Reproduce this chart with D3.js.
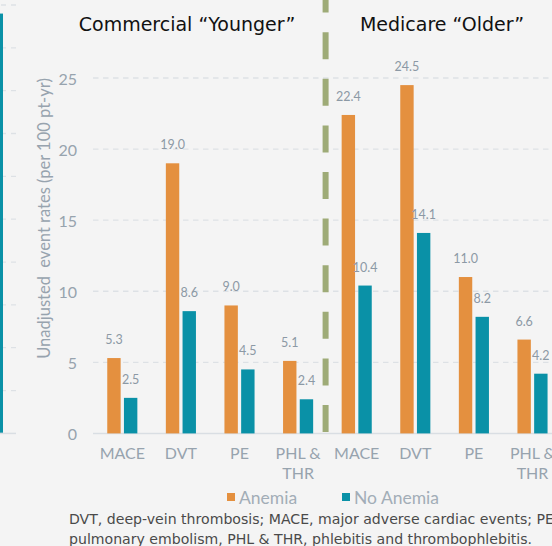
<!DOCTYPE html>
<html>
<head>
<meta charset="utf-8">
<script src="https://cdn.jsdelivr.net/npm/d3@7"></script>
<style>
  html, body { margin: 0; padding: 0; background: #f4f4f4; }
  svg { display: block; }
</style>
</head>
<body>
<div id="chart"></div>
<script>
// data
var categories = ["MACE", "DVT", "PE", "PHL & THR", "MACE", "DVT", "PE", "PHL & THR"];
var groups = ["Commercial", "Commercial", "Commercial", "Commercial", "Medicare", "Medicare", "Medicare", "Medicare"];
var anemia = [5.3, 19.0, 9.0, 5.1, 22.4, 24.5, 11.0, 6.6];
var noAnemia = [2.5, 8.6, 4.5, 2.4, 10.4, 14.1, 8.2, 4.2];
var yTicks = [0, 5, 10, 15, 20, 25];
var panelTitles = ["Commercial \u201cYounger\u201d", "Medicare \u201cOlder\u201d"];
var seriesNames = ["Anemia", "No Anemia"];
// edge of the neighbouring panel that shows at the left border
var neighbourValue = [9.8];
var neighbourTicks = [0, 1, 2, 3, 4, 5, 6, 7, 8, 9, 10];

const W = 552, H = 546;
const orange = "#e4903f", teal = "#0a91a7", olive = "#9eab77";
const axisGrey = "#97a3ae", labelFont = "Lato, 'Open Sans', sans-serif";

var svg = d3.select('#chart').append('svg')
    .attr('width', W)
    .attr('height', H);

svg.append('rect').attr('width', W).attr('height', H).attr('fill', '#f4f4f4');

var x = d3.scaleBand().domain(d3.range(categories.length)).range([93, 93 + 58.6*categories.length]);
var y = d3.scaleLinear().domain([0, 25]).range([433.4, 78]);

// neighbouring panel (cut off at the left edge)
var yn = d3.scaleLinear().domain([0, 10]).range([433.4, 5]);
svg.selectAll('.ngrid')
    .data(neighbourTicks.slice(1))
    .enter().append('line')
    .attr('x1', 16).attr('x2', -40)
    .attr('y1', d => yn(d)).attr('y2', d => yn(d))
    .attr('stroke', '#dde1e5')
    .attr('stroke-width', 1.3)
    .attr('stroke-dasharray', '5 5');
svg.append('rect')
    .attr('x', -10).attr('width', 13)
    .attr('y', yn(neighbourValue[0]))
    .attr('height', yn(0) - yn(neighbourValue[0]))
    .attr('fill', teal);
svg.append('line')
    .attr('x1', 0).attr('x2', 16)
    .attr('y1', yn(0)).attr('y2', yn(0))
    .attr('stroke', '#d9dee3').attr('stroke-width', 1.5);

// gridlines
svg.selectAll('.grid')
    .data(yTicks.slice(1))
    .enter().append('line')
    .attr('x1', x.range()[0]).attr('x2', W)
    .attr('y1', d => y(d)).attr('y2', d => y(d))
    .attr('stroke', '#dde1e5')
    .attr('stroke-width', 1.3)
    .attr('stroke-dasharray', '5.5 4.5');

svg.append('line')
    .attr('x1', x.range()[0]).attr('x2', W)
    .attr('y1', y(0)).attr('y2', y(0))
    .attr('stroke', '#d9dee3').attr('stroke-width', 1.5);

// y tick labels
svg.selectAll('.ytick')
    .data(yTicks)
    .enter().append('text')
    .attr('x', 77)
    .attr('y', d => y(d))
    .attr('text-anchor', 'end')
    .attr('dominant-baseline', 'central')
    .attr('font-family', labelFont)
    .attr('font-size', '16px')
    .attr('fill', axisGrey)
    .text(d => d);

// y axis title
svg.append('text')
    .attr('transform', 'translate(44,218.5) rotate(-90)')
    .attr('text-anchor', 'middle')
    .attr('dominant-baseline', 'central')
    .attr('font-family', labelFont)
    .attr('font-size', '16.5px')
    .attr('fill', axisGrey)
    .attr('xml:space', 'preserve')
    .text("Unadjusted  event rates (per 100 pt-yr)");

// bars
const barW = 13.4, barGap = 3.3;
var series = [anemia, noAnemia];
var colors = [orange, teal];
series.forEach(function(vals, s){
    var cx = i => x(i) + x.bandwidth()/2 + (s == 0 ? -(barGap/2 + barW/2) : (barGap/2 + barW/2));
    svg.selectAll('.bar' + s)
        .data(vals)
        .enter().append('rect')
        .attr('x', (d, i) => cx(i) - barW/2)
        .attr('width', barW)
        .attr('y', d => y(d))
        .attr('height', d => y(0) - y(d))
        .attr('fill', colors[s]);

    svg.selectAll('.val' + s)
        .data(vals)
        .enter().append('text')
        .attr('x', (d, i) => cx(i))
        .attr('y', d => y(d) - 14)
        .attr('text-anchor', 'middle')
        .attr('font-family', labelFont)
        .attr('font-size', '12.5px')
        .attr('fill', '#8c99a5')
        .text(d => d.toFixed(1));
});

// category labels
svg.selectAll('.cat')
    .data(categories)
    .enter().append('text')
    .attr('x', (d, i) => x(i) + x.bandwidth()/2)
    .attr('y', 459)
    .attr('text-anchor', 'middle')
    .attr('font-family', labelFont)
    .attr('font-size', '16px')
    .attr('fill', axisGrey)
    .each(function(d){
        var parts = d == "PHL & THR" ? ["PHL &", "THR"] : [d];
        var t = d3.select(this);
        parts.forEach(function(p, k){
            t.append('tspan')
                .attr('x', t.attr('x'))
                .attr('dy', k == 0 ? 0 : 20)
                .text(p);
        });
    });

// divider between the panels
var divX = (x(3) + x(4) + x.bandwidth())/2 - 1.8;
svg.append('line')
    .attr('x1', divX).attr('x2', divX)
    .attr('y1', 432).attr('y2', 0)
    .attr('stroke', olive)
    .attr('stroke-width', 6)
    .attr('stroke-dasharray', '27 19.6');

// panel titles
var titleX = [187, 442];
panelTitles.forEach(function(t, i){
    svg.append('text')
        .attr('x', titleX[i])
        .attr('y', 31)
        .attr('text-anchor', 'middle')
        .attr('font-family', "'DejaVu Sans', sans-serif")
        .attr('font-size', '19px')
        .attr('fill', '#111')
        .text(t);
});

// legend
var legendX = [227, 342];
seriesNames.forEach(function(n, i){
    svg.append('rect')
        .attr('x', legendX[i]).attr('y', 493)
        .attr('width', 8).attr('height', 8)
        .attr('fill', colors[i]);
    svg.append('text')
        .attr('x', legendX[i] + 12)
        .attr('y', 497)
        .attr('dominant-baseline', 'central')
        .attr('font-family', labelFont)
        .attr('font-size', '17.5px')
        .attr('fill', '#a2adb7')
        .text(n);
});

// footnote
var footnote = [
    "DVT, deep-vein thrombosis; MACE, major adverse cardiac events; PE,",
    "pulmonary embolism, PHL & THR, phlebitis and thrombophlebitis."
];
footnote.forEach(function(l, i){
    svg.append('text')
        .attr('x', 69)
        .attr('y', 524 + i*20)
        .attr('font-family', "'DejaVu Sans', sans-serif")
        .attr('font-size', '14.1px')
        .attr('fill', '#4a4a4a')
        .text(l);
});
</script>
</body>
</html>
